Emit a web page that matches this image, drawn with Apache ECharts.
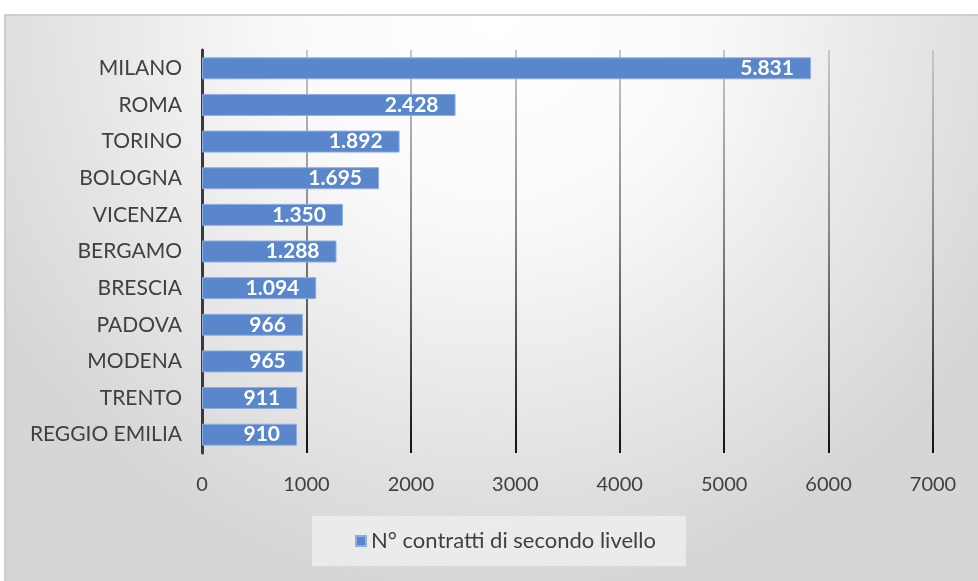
<!DOCTYPE html>
<html><head><meta charset="utf-8">
<script src="https://cdn.jsdelivr.net/npm/echarts@6/dist/echarts.min.js"></script>
<style>html,body{margin:0;padding:0;background:#fff}#c{width:978px;height:581px}</style>
</head><body><div id="c"></div>
<script>
const categories = ['MILANO','ROMA','TORINO','BOLOGNA','VICENZA','BERGAMO','BRESCIA','PADOVA','MODENA','TRENTO','REGGIO EMILIA'];
const values = [5831, 2428, 1892, 1695, 1350, 1288, 1094, 966, 965, 911, 910];
const seriesName = 'N° contratti di secondo livello';
const xTicks = [0, 1000, 2000, 3000, 4000, 5000, 6000, 7000];

const fmt = v => String(v).replace(/\B(?=(\d{3})+(?!\d))/g, '.');
const FONT = 'Lato';
const chart = echarts.init(document.getElementById('c'));
chart.setOption({
  animation: false,
  graphic: [{
    type: 'rect', z: -10, silent: true,
    shape: {x: 5, y: 15, width: 980, height: 575},
    style: {
      fill: new echarts.graphic.RadialGradient(0.5, 0.0, 1.0, [
        {offset: 0, color: '#ffffff'}, {offset: 0.35, color: '#fafafa'}, {offset: 1, color: '#d6d6d6'}
      ]),
      stroke: '#c4c4c4', lineWidth: 1.5
    }
  }],
  grid: {left: 202, right: 45, top: 50, bottom: 128, containLabel: false},
  legend: {
    data: [seriesName], left: 312, top: 516,
    backgroundColor: 'rgba(240,240,240,0.75)',
    padding: [14, 30, 14, 43],
    icon: 'rect', itemWidth: 10, itemHeight: 10, itemGap: 5,
    textStyle: {fontFamily: FONT, fontSize: 22, color: '#404040'}
  },
  xAxis: {
    type: 'value', min: 0, max: 7000, interval: 1000,
    axisLine: {show: false}, axisTick: {show: false},
    axisLabel: {fontFamily: FONT, fontSize: 20, color: '#404040', margin: 22,
      formatter: v => xTicks.includes(v) ? String(v) : ''},
    splitLine: {show: true, lineStyle: {width: 2, color: new echarts.graphic.LinearGradient(0, 0, 0, 1, [
      {offset: 0, color: '#c8c8c8'}, {offset: 0.45, color: '#888888'}, {offset: 1, color: '#111111'}
    ])}}
  },
  yAxis: {
    type: 'category', data: categories, inverse: true,
    axisLine: {show: true, lineStyle: {color: '#3a3a3a', width: 3}},
    axisTick: {show: false},
    axisLabel: {fontFamily: FONT, fontSize: 21, color: '#404040', margin: 20}
  },
  series: [{
    name: seriesName, type: 'bar', data: values, barCategoryGap: '40%',
    itemStyle: {color: '#5a86cc', borderColor: '#8eaee0', borderWidth: 1},
    label: {show: true, position: 'insideRight', distance: 17, color: '#ffffff',
      fontFamily: FONT, fontWeight: 'bold', fontSize: 21, formatter: p => fmt(p.value)}
  }]
});
</script></body></html>
